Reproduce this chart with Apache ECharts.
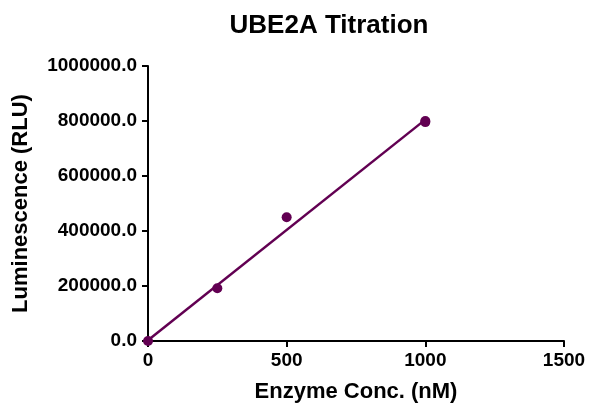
<!DOCTYPE html>
<html>
<head>
<meta charset="utf-8">
<script src="https://cdn.jsdelivr.net/npm/echarts@6/dist/echarts.min.js"></script>
<style>
  html, body { margin: 0; padding: 0; background: #fff; }
  #chart { width: 589px; height: 408px; }
</style>
</head>
<body>
<div id="chart"></div>
<script>
// measured points (nM, RLU)
const concs = [0, 250, 500, 1000, 1000];
const signal = [0, 192000, 450000, 796000, 800000];
// fitted line ends
const fitX = [0, 1000];
const fitY = [3000, 805000];

const purple = '#620052';
const font = '"Liberation Sans", Arial, sans-serif';

const chart = echarts.init(document.getElementById('chart'));
chart.setOption({
  animation: false,
  title: {
    text: 'UBE2A Titration',
    left: 324, top: 8, textAlign: 'center',
    textStyle: { fontFamily: font, fontSize: 26, fontWeight: 'bold', color: '#000' }
  },
  grid: { left: 148, right: 25, top: 66, bottom: 66 },
  xAxis: {
    type: 'value', min: 0, max: 1500, interval: 500,
    name: 'Enzyme Conc. (nM)', nameLocation: 'middle', nameGap: 40,
    nameTextStyle: { fontFamily: font, fontSize: 22, fontWeight: 'bold', color: '#000' },
    axisLine: { lineStyle: { color: '#000', width: 2 } },
    axisTick: { length: 6, lineStyle: { color: '#000', width: 2 } },
    axisLabel: {
      fontFamily: font, fontSize: 19, fontWeight: 'bold', color: '#000', margin: 10,
      formatter: v => String(v)
    },
    splitLine: { show: false }
  },
  yAxis: {
    type: 'value', min: 0, max: 1000000, interval: 200000,
    name: 'Luminescence (RLU)', nameLocation: 'middle', nameGap: 116,
    nameTextStyle: { fontFamily: font, fontSize: 22, fontWeight: 'bold', color: '#000' },
    axisLine: { show: true, lineStyle: { color: '#000', width: 2 } },
    axisTick: { show: true, length: 6, lineStyle: { color: '#000', width: 2 } },
    axisLabel: {
      fontFamily: font, fontSize: 19, fontWeight: 'bold', color: '#000', margin: 11,
      formatter: v => v.toFixed(1)
    },
    splitLine: { show: false }
  },
  series: [
    {
      type: 'line',
      data: fitX.map((x, i) => [x, fitY[i]]),
      symbol: 'none',
      lineStyle: { color: purple, width: 2.5 },
      z: 2
    },
    {
      type: 'scatter',
      data: concs.map((x, i) => [x, signal[i]]),
      symbol: 'circle', symbolSize: 10,
      itemStyle: { color: purple, opacity: 1 },
      z: 3
    }
  ]
});
</script>
</body>
</html>
